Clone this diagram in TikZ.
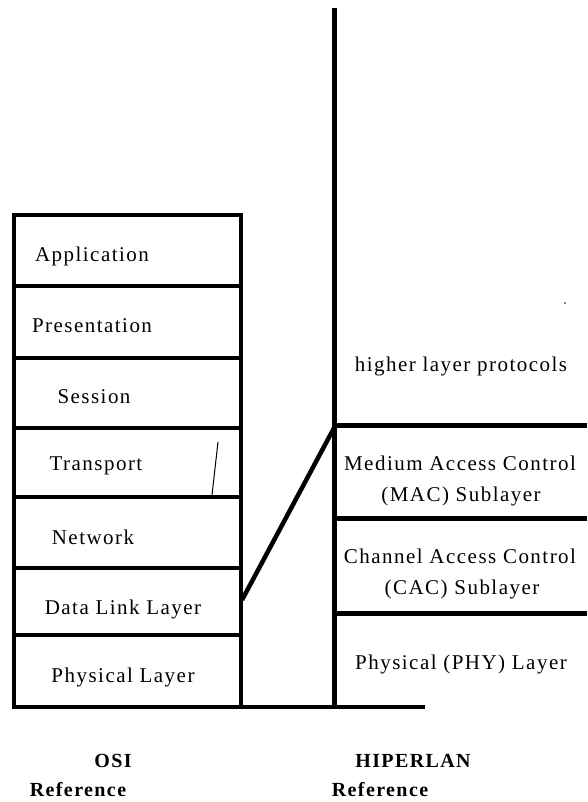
\documentclass[tikz,border=0pt]{standalone}
\usepackage{fontspec}
\setmainfont{Liberation Serif}[LetterSpace=7]
\begin{document}
\begin{tikzpicture}[x=1pt,y=-1pt,
  layerbox/.style={draw, line width=4.5pt, minimum width=227pt, inner sep=0pt},
  lbl/.style={inner sep=0pt, font=\fontsize{21}{23}\selectfont},
  blbl/.style={inner sep=0pt, font=\fontsize{20}{22}\selectfont\bfseries}]
\useasboundingbox[fill=white] (0,0) rectangle (587,802);
% OSI stack
\node[layerbox, minimum height=71pt] (app)  at (127.5,250.5) {};
\node[layerbox, minimum height=72pt] (pres) at (127.5,322) {};
\node[layerbox, minimum height=70pt] (sess) at (127.5,393) {};
\node[layerbox, minimum height=69pt] (trans) at (127.5,462.5) {};
\node[layerbox, minimum height=71pt] (net)  at (127.5,532.5) {};
\node[layerbox, minimum height=67pt] (dl)   at (127.5,601.5) {};
\node[layerbox, minimum height=72pt] (phy)  at (127.5,671) {};
\node[lbl] (tapp) at (92,256) {Application};
\node[lbl] (tpres) at (92,326) {Presentation};
\node[lbl] (tsess) at (94,397) {Session};
\node[lbl] (ttrans) at (96,466) {Transport};
\node[lbl] (tnet) at (93,537) {Network};
\node[lbl] (tdl) at (123,609) {Data Link Layer};
\node[lbl] (tphy) at (123,677) {Physical Layer};
% small stray mark
\coordinate (s1) at (218,442);
\coordinate (s2) at (212,495);
\draw[line width=1pt] (s1) -- (s2);
% HIPERLAN side
\coordinate (vtop) at (334,8);
\coordinate (vbot) at (334,707);
\coordinate (bl) at (13,707);
\coordinate (br) at (425,707);
\draw[line width=5pt] (vtop) -- (vbot);
\draw[line width=4pt] (bl) -- (br);
\coordinate (h1l) at (334,425); \coordinate (h1r) at (587,425);
\coordinate (h2l) at (334,518); \coordinate (h2r) at (587,518);
\coordinate (h3l) at (334,613); \coordinate (h3r) at (587,613);
\draw[line width=5pt] (h1l) -- (h1r);
\draw[line width=5pt] (h2l) -- (h2r);
\draw[line width=5pt] (h3l) -- (h3r);
% diagonal link
\coordinate (d1) at (242,600);
\coordinate (d2) at (334,428);
\draw[line width=4.5pt] (d1) -- (d2);
% dot
\fill (565,303) circle (0.8pt);
\node[lbl] (thigh) at (461,366) {higher layer protocols};
\node[lbl] (tmac1) at (460,463) {Medium Access Control};
\node[lbl] (tmac2) at (461,496) {(MAC) Sublayer};
\node[lbl] (tcac1) at (460,556) {Channel Access Control};
\node[lbl] (tcac2) at (462,589) {(CAC) Sublayer};
\node[lbl] (tphyh) at (461,664) {Physical (PHY) Layer};
% bottom captions
\node[blbl] (osi) at (113,761) {OSI};
\node[blbl] (osiref) at (78,790) {Reference};
\node[blbl] (hip) at (413,761) {HIPERLAN};
\node[blbl] (hipref) at (380,790) {Reference};
\end{tikzpicture}
\end{document}
